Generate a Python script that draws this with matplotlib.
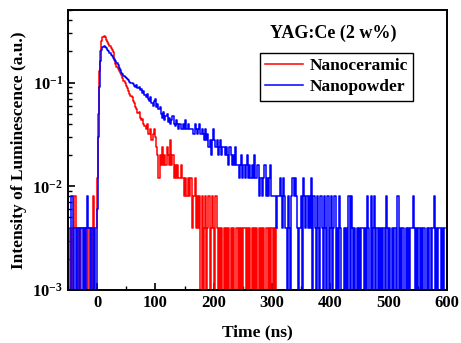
import numpy as np
import matplotlib
matplotlib.use('Agg')
import matplotlib.pyplot as plt
from matplotlib.ticker import MultipleLocator, LogLocator, FuncFormatter, NullFormatter

plt.rcParams['font.family'] = ['Liberation Serif', 'DejaVu Serif']
plt.rcParams['font.weight'] = 'bold'

COUNT = 0.004  # one photon count in a.u.

# ---- Nanoceramic (red) ----
red_pre_counts = [0, 1, 0, 1, 1, 2, 1, 0, 1, 1, 0, 1, 1, 0, 1, 1, 0, 1, 1, 0, 1, 2, 1, 1]
red_front = [0.012, 0.05, 0.13, 0.20, 0.25, 0.275, 0.282, 0.272, 0.258, 0.245,
             0.236, 0.226, 0.216, 0.205, 0.196, 0.17, 0.15, 0.142, 0.136, 0.130,
             0.124, 0.118, 0.110, 0.104, 0.099, 0.092, 0.088, 0.083, 0.078, 0.074,
             0.072, 0.066, 0.064, 0.058, 0.056, 0.051, 0.052, 0.046, 0.044, 0.045,
             0.040, 0.038, 0.036, 0.040, 0.032, 0.032, 0.036, 0.028, 0.032, 0.036,
             0.030]
red_tail_counts = [6, 5, 3, 5, 4, 6, 4, 5, 4, 6,
                   5, 4, 7, 4, 5, 3, 4, 3, 4, 3,
                   3, 4, 3, 3, 2, 3, 2, 3, 2, 3,
                   3, 1, 2, 3, 1, 2, 1, 2, 0, 2,
                   0, 1, 2, 0, 1, 2, 0, 1, 2, 1,
                   0, 2, 1, 0, 1, 0, 1, 0, 1, 0,
                   1, 0, 1, 0, 1, 0, 1, 0, 0, 1,
                   0, 1, 0, 1, 0, 1, 1, 0, 1, 0,
                   1, 0, 1, 0, 1, 0, 1, 0, 1, 0,
                   1, 0, 1, 0, 1, 1, 0, 1, 0, 1,
                   0, 1, 0, 1]

# ---- Nanopowder (blue) ----
blue_pre_counts = [0, 0, 2, 2, 0, 1, 0, 1, 1, 0, 1, 1, 0, 1, 0, 1, 2, 1, 0, 1, 1, 0, 1, 0]
blue_front = [0.006, 0.03, 0.09, 0.16, 0.205, 0.222, 0.225, 0.218, 0.213, 0.208,
              0.200, 0.193, 0.186, 0.180, 0.172, 0.165, 0.160, 0.155, 0.146, 0.138,
              0.131, 0.124, 0.120, 0.115, 0.112, 0.110, 0.107, 0.105, 0.102, 0.100,
              0.098, 0.096, 0.093, 0.090, 0.094, 0.088, 0.091, 0.084, 0.087, 0.080,
              0.083, 0.076, 0.073, 0.078, 0.070, 0.066, 0.072, 0.064, 0.060, 0.066,
              0.070, 0.058, 0.062, 0.055, 0.058, 0.050, 0.046, 0.052, 0.044, 0.048,
              0.050, 0.042, 0.046, 0.040, 0.044, 0.048, 0.040, 0.038, 0.044, 0.040,
              0.036]
blue_tail_counts = [10, 9, 9, 10, 9, 11, 9, 10, 9, 9,
                    9, 9, 8, 10, 9, 8, 9, 10, 8, 9,
                    8, 7, 9, 7, 8, 6, 7, 5, 7, 9,
                    7, 6, 7, 5, 6, 7, 5, 6, 6, 5,
                    6, 5, 4, 6, 5, 4, 5, 4, 6, 4,
                    4, 3, 4, 5, 3, 4, 3, 4, 5, 3,
                    4, 3, 4, 3, 5, 3, 3, 4, 2, 3,
                    3, 2, 3, 4, 2, 3, 2, 3, 4, 2,
                    2, 2, 2, 1, 2, 2, 3, 2, 1, 3,
                    2, 1, 0, 2, 1, 0, 2, 3, 2, 3,
                    2, 1, 0, 1, 2, 0, 3, 2, 1, 2,
                    1, 2, 1, 3, 0, 2, 1, 0, 2, 1,
                    0, 2, 1, 0, 2, 1, 0, 2, 0, 1,
                    2, 0, 1, 2, 0, 1, 0, 2, 1, 0,
                    0, 1, 0, 1, 0, 2, 0, 2, 1, 0,
                    1, 0, 1, 0, 1, 0, 1, 1, 0, 1,
                    0, 2, 1, 0, 2, 0, 1, 2, 0, 1,
                    0, 1, 0, 1, 0, 1, 0, 2, 1, 0,
                    1, 0, 1, 0, 1, 1, 0, 2, 0, 1,
                    0, 1, 1, 0, 1, 0, 1, 0, 1, 1,
                    2, 1, 0, 1, 0, 1, 0, 1, 0, 1,
                    1, 0, 1, 0, 1, 1, 0, 1, 2, 0,
                    1, 0, 1, 1, 0, 1, 0, 1]

red_t = np.arange(-48, 310, 2)
blue_t = np.arange(-48, 598, 2)
red_y = np.concatenate([np.array(red_pre_counts) * COUNT, red_front,
                        np.array(red_tail_counts) * COUNT])
blue_y = np.concatenate([np.array(blue_pre_counts) * COUNT, blue_front,
                         np.array(blue_tail_counts) * COUNT])
assert len(red_t) == len(red_y) and len(blue_t) == len(blue_y)

fig = plt.figure(figsize=(4.61, 3.43), dpi=100)
ax = fig.add_axes([0.1475, 0.1545, 0.822, 0.8163])

ax.plot(red_t, red_y, color='#ff0000', lw=1.1, drawstyle='steps-mid', label='Nanoceramic')
ax.plot(blue_t, blue_y, color='#0000ff', lw=1.1, drawstyle='steps-mid', label='Nanopowder')

ax.set_yscale('log', nonpositive='clip')
ax.set_xlim(-50, 600)
ax.set_ylim(1e-3, 0.5)

ax.xaxis.set_major_locator(MultipleLocator(100))
ax.xaxis.set_minor_locator(MultipleLocator(50))
ax.yaxis.set_major_locator(LogLocator(base=10, numticks=10))
ax.yaxis.set_minor_locator(LogLocator(base=10, subs=np.arange(2, 10), numticks=20))
ax.yaxis.set_minor_formatter(NullFormatter())
ax.yaxis.set_major_formatter(FuncFormatter(lambda v, p: r'$\mathregular{10^{%d}}$' % round(np.log10(v))))

ax.tick_params(which='both', direction='in', top=False, right=False, labelsize=12)
ax.tick_params(which='major', length=5, width=1.2)
ax.tick_params(which='minor', length=3, width=1.0)
for s in ax.spines.values():
    s.set_linewidth(1.4)
for lab in ax.get_xticklabels() + ax.get_yticklabels():
    lab.set_fontweight('bold')

ax.set_xlabel('Time (ns)', fontsize=12.5, fontweight='bold', labelpad=10)
ax.set_ylabel('Intensity of Luminescence (a.u.)', fontsize=12.5, fontweight='bold', labelpad=4)

ax.text(0.70, 0.917, 'YAG:Ce (2 w%)', transform=ax.transAxes, ha='center', va='center',
        fontsize=13, fontweight='bold')
leg = ax.legend(loc='upper right', bbox_to_anchor=(0.91, 0.848), fontsize=12.5,
                frameon=True, fancybox=False, edgecolor='black', framealpha=1,
                handlelength=2.2, handletextpad=0.35, borderpad=0.3, labelspacing=0.3,
                borderaxespad=0)
leg.get_frame().set_linewidth(1.0)

fig.savefig('out.png', dpi=100)
